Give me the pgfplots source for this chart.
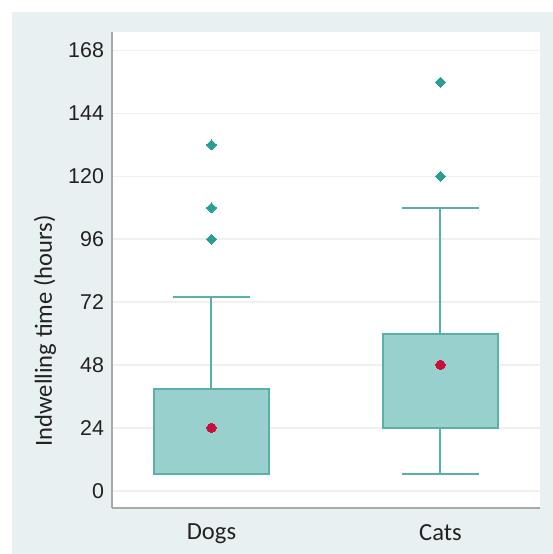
\documentclass[border=0pt]{standalone}
\usepackage{fontspec}
\setmainfont{Carlito}
\newfontfamily\arialf{Liberation Sans}
\usepackage{pgfplots}
\pgfplotsset{compat=1.18}
\definecolor{bgc}{HTML}{E9F0F2}
\definecolor{boxfill}{HTML}{98D0CE}
\definecolor{boxedge}{HTML}{5AAFAA}
\definecolor{outc}{HTML}{2A9D95}
\definecolor{dotc}{HTML}{C8103C}
\definecolor{axc}{HTML}{A8A8A8}
\definecolor{gridc}{HTML}{F0F0F0}
\definecolor{txtc}{HTML}{222222}
\begin{document}
\begin{tikzpicture}
\useasboundingbox (0,0) rectangle (276.5pt,277pt);
\fill[bgc] (6pt,0) rectangle (276.5pt,271pt);
\begin{axis}[
  at={(56pt,23pt)}, anchor=south west, scale only axis,
  width=214pt, height=238pt,
  xmin=0.5655, xmax=2.4345, ymin=-6.6, ymax=175.1,
  xtick={1,2}, xticklabels={Dogs,Cats},
  ytick={0,24,...,168},
  axis background/.style={fill=white},
  axis x line*=bottom, axis y line*=left,
  axis line style={-, draw=axc, line width=0.8pt},
  major tick length=0pt,
  ymajorgrids, grid style={gridc, line width=0.8pt},
  /pgf/number format/assume math mode=true,
  yticklabel style={font=\arialf\fontsize{10.7}{12}\selectfont, text=txtc, xshift=-0.5pt},
  xticklabel style={font=\fontsize{12.3}{14}\selectfont, text=txtc, yshift=-4.5pt},
  ylabel={Indwelling time (hours)},
  every axis y label/.style={at={(rel axis cs:0,0.372)}, xshift=-33.5pt, rotate=90, anchor=center, font=\fontsize{12.3}{14}\selectfont, text=txtc},
  clip=false,
]
% ---- Dogs: min 6.5 (= Q1), Q1 6.5, Q3 39, upper whisker 74 ----
\addplot[draw=boxedge, line width=1pt] coordinates {(1,39) (1,74)};
\addplot[draw=boxedge, line width=1pt] coordinates {(0.83,74) (1.17,74)};
\addplot[draw=boxedge, fill=boxfill, line width=1pt] coordinates {(0.75,6.5) (1.25,6.5) (1.25,39) (0.75,39)} -- cycle;
% ---- Cats: lower whisker 6.5, Q1 24, Q3 60, upper whisker 108 ----
\addplot[draw=boxedge, line width=1pt] coordinates {(2,6.5) (2,24)};
\addplot[draw=boxedge, line width=1pt] coordinates {(1.83,6.5) (2.17,6.5)};
\addplot[draw=boxedge, line width=1pt] coordinates {(2,60) (2,108)};
\addplot[draw=boxedge, line width=1pt] coordinates {(1.83,108) (2.17,108)};
\addplot[draw=boxedge, fill=boxfill, line width=1pt] coordinates {(1.75,24) (2.25,24) (2.25,60) (1.75,60)} -- cycle;
% outliers
\addplot[only marks, mark=square*, mark size=1.77pt, mark options={fill=outc, draw=outc, line width=0pt, rotate=45}]
  coordinates {(1,132) (1,108) (1,96) (2,156) (2,120)};
% means
\addplot[only marks, mark=*, mark size=2.3pt, mark options={fill=dotc, draw=dotc, line width=0pt}]
  coordinates {(1,24) (2,48)};
\end{axis}
\end{tikzpicture}
\end{document}
